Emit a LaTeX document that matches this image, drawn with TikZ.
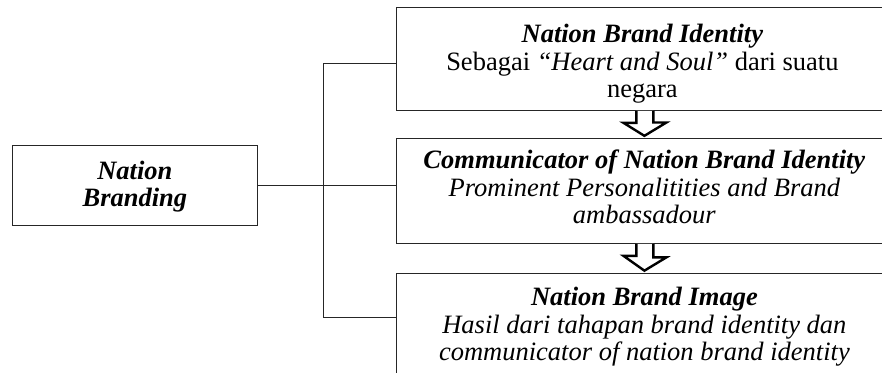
\documentclass[tikz,border=0pt]{standalone}
\usepackage{fontspec}
\setmainfont{Liberation Serif}
\usepackage{tikz}
\usetikzlibrary{calc}

\tikzset{
	box/.style={draw=black!85, line width=0.8pt, inner sep=0pt},
	txt/.style={align=center, inner sep=0pt, font=\fontsize{26.5}{27.5}\selectfont},
	link/.style={draw=black!85, line width=0.8pt},
	hollow/.style={draw=black, line width=2.4pt, fill=white, line join=miter}
}

\begin{document}
		\begin{tikzpicture}[x=1pt, y=1pt]
			\clip (0, 0) rectangle (882, -372);
			\fill[white] (0, 0) rectangle (882, -372);
			\node[box, minimum width=245pt, minimum height=80pt, anchor=north west] (brand) at (12, -145) {};
			\node[box, minimum width=496pt, minimum height=103pt, anchor=north west] (identity) at (396, -7) {};
			\node[box, minimum width=496pt, minimum height=105pt, anchor=north west] (comm) at (396, -138) {};
			\node[box, minimum width=496pt, minimum height=107pt, anchor=north west] (image) at (396, -273) {};
			\node[txt] (brand-t) at ([yshift=-1pt]brand.center)
				{\textbf{\textit{Nation}}\\[-1pt]\textbf{\textit{Branding}}};
			\node[txt] (identity-t) at ([xshift=-2pt, yshift=-5pt]identity.center)
				{\textbf{\textit{Nation Brand Identity}}\\Sebagai \textit{“Heart and Soul”} dari suatu\\negara};
			\node[txt] (comm-t) at ([yshift=4pt]comm.center)
				{\textbf{\textit{Communicator of Nation Brand Identity}}\\\textit{Prominent Personalitities and Brand}\\\textit{ambassadour}};
			\node[txt] (image-t) at (image.center)
				{\textbf{\textit{Nation Brand Image}}\\\textit{Hasil dari tahapan brand identity dan}\\\textit{communicator of nation brand identity}};
			\coordinate (jt) at (323, -63);
			\coordinate (jb) at (323, -317);
			\draw[link] (jt) -- (jb);
			\draw[link] (brand.east) -- (brand.east -| comm.west);
			\draw[link] (jt) -- (jt -| identity.west);
			\draw[link] (jb) -- (jb -| image.west);
			\foreach \u/\l in {identity/comm, comm/image}
				\draw[hollow] ([xshift=-8pt]\u.south) -- ++(0, -12) -- ++(-13, 0) -- ($(\u.south)!0.92!(\l.north)$)
					-- ++(22, 13.3) -- ++(-13, 0) -- ([xshift=9pt]\u.south);
		\end{tikzpicture}
\end{document}
